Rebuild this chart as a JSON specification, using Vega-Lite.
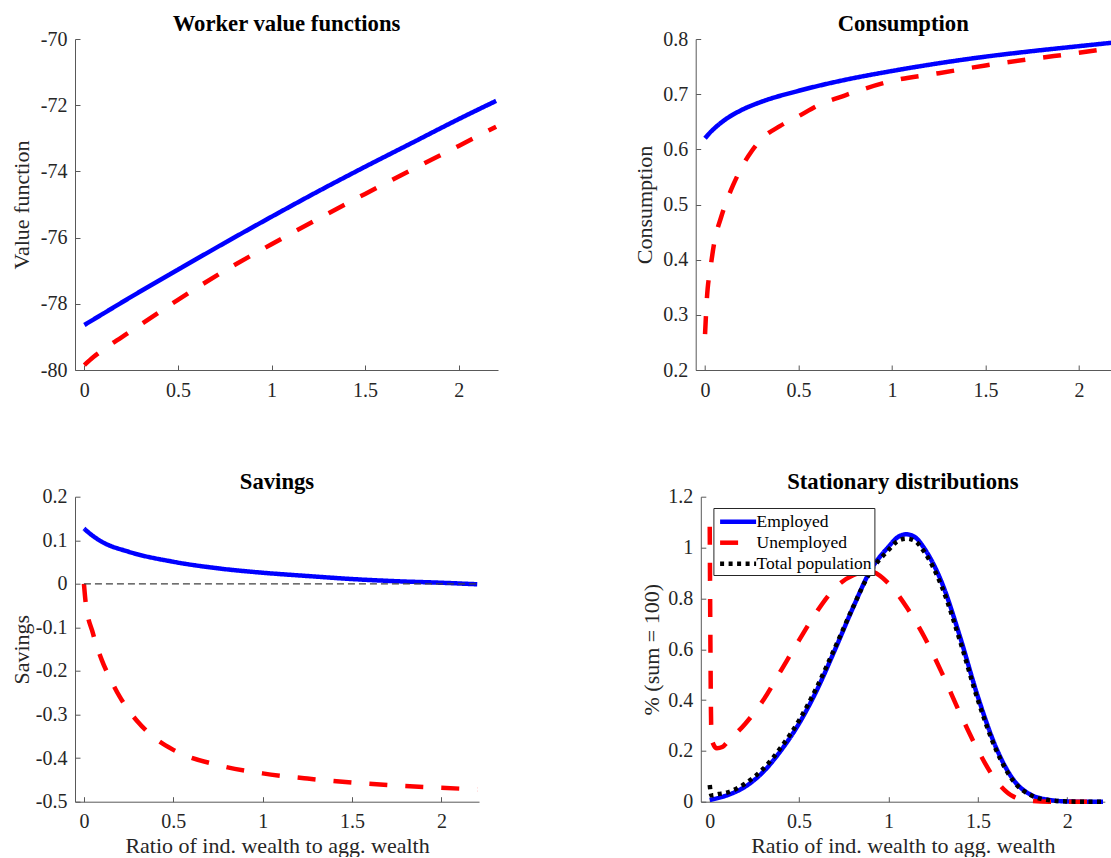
{
  "$schema": "https://vega.github.io/schema/vega-lite/v6.json",
  "padding": {"left": 10, "top": 13, "right": 0, "bottom": 0},
  "background": "white",
  "config": {
    "font": "Liberation Serif",
    "view": {"stroke": null},
    "axis": {
      "grid": false,
      "labelFont": "Liberation Serif",
      "labelFontSize": 20,
      "labelColor": "#262626",
      "titleFont": "Liberation Serif",
      "titleFontSize": 22,
      "titleFontWeight": "normal",
      "titleColor": "#262626",
      "domainColor": "#595959",
      "tickColor": "#595959",
      "tickSize": -5,
      "domainWidth": 1,
      "tickWidth": 1
    },
    "title": {"font": "Liberation Serif", "fontSize": 22.7, "fontWeight": "bold", "color": "#000000", "offset": -7, "frame": "group", "baseline": "alphabetic"},
    "line": {"strokeWidth": 4.5, "strokeCap": "butt", "clip": true, "interpolate": "monotone"}
  },
  "datasets": {
    "vf": [
      {"x": 0, "y": -78.64, "s": "Employed"},
      {"x": 0.1, "y": -78.3, "s": "Employed"},
      {"x": 0.25, "y": -77.79, "s": "Employed"},
      {"x": 0.5, "y": -76.97, "s": "Employed"},
      {"x": 0.75, "y": -76.16, "s": "Employed"},
      {"x": 1, "y": -75.37, "s": "Employed"},
      {"x": 1.25, "y": -74.6, "s": "Employed"},
      {"x": 1.5, "y": -73.86, "s": "Employed"},
      {"x": 1.75, "y": -73.14, "s": "Employed"},
      {"x": 2, "y": -72.42, "s": "Employed"},
      {"x": 2.2, "y": -71.87, "s": "Employed"},
      {"x": 0, "y": -79.85, "s": "Unemployed"},
      {"x": 0.05, "y": -79.6, "s": "Unemployed"},
      {"x": 0.1, "y": -79.39, "s": "Unemployed"},
      {"x": 0.25, "y": -78.82, "s": "Unemployed"},
      {"x": 0.5, "y": -77.88, "s": "Unemployed"},
      {"x": 0.75, "y": -77.0, "s": "Unemployed"},
      {"x": 1, "y": -76.2, "s": "Unemployed"},
      {"x": 1.25, "y": -75.43, "s": "Unemployed"},
      {"x": 1.5, "y": -74.68, "s": "Unemployed"},
      {"x": 1.75, "y": -73.95, "s": "Unemployed"},
      {"x": 2, "y": -73.23, "s": "Unemployed"},
      {"x": 2.2, "y": -72.65, "s": "Unemployed"}
    ],
    "cons": [
      {"x": 0, "y": 0.62, "s": "Employed"},
      {"x": 0.02, "y": 0.628, "s": "Employed"},
      {"x": 0.05, "y": 0.638, "s": "Employed"},
      {"x": 0.1, "y": 0.652, "s": "Employed"},
      {"x": 0.2, "y": 0.672, "s": "Employed"},
      {"x": 0.3, "y": 0.686, "s": "Employed"},
      {"x": 0.5, "y": 0.706, "s": "Employed"},
      {"x": 0.75, "y": 0.726, "s": "Employed"},
      {"x": 1, "y": 0.742, "s": "Employed"},
      {"x": 1.25, "y": 0.756, "s": "Employed"},
      {"x": 1.5, "y": 0.768, "s": "Employed"},
      {"x": 1.75, "y": 0.778, "s": "Employed"},
      {"x": 2, "y": 0.787, "s": "Employed"},
      {"x": 2.2, "y": 0.794, "s": "Employed"},
      {"x": 0, "y": 0.265, "s": "Unemployed"},
      {"x": 0.01, "y": 0.33, "s": "Unemployed"},
      {"x": 0.03, "y": 0.387, "s": "Unemployed"},
      {"x": 0.05, "y": 0.432, "s": "Unemployed"},
      {"x": 0.085, "y": 0.476, "s": "Unemployed"},
      {"x": 0.1, "y": 0.492, "s": "Unemployed"},
      {"x": 0.15, "y": 0.535, "s": "Unemployed"},
      {"x": 0.2, "y": 0.57, "s": "Unemployed"},
      {"x": 0.25, "y": 0.597, "s": "Unemployed"},
      {"x": 0.3, "y": 0.618, "s": "Unemployed"},
      {"x": 0.4, "y": 0.642, "s": "Unemployed"},
      {"x": 0.5, "y": 0.66, "s": "Unemployed"},
      {"x": 0.6, "y": 0.679, "s": "Unemployed"},
      {"x": 0.75, "y": 0.698, "s": "Unemployed"},
      {"x": 1, "y": 0.724, "s": "Unemployed"},
      {"x": 1.25, "y": 0.738, "s": "Unemployed"},
      {"x": 1.5, "y": 0.752, "s": "Unemployed"},
      {"x": 1.75, "y": 0.764, "s": "Unemployed"},
      {"x": 2, "y": 0.775, "s": "Unemployed"},
      {"x": 2.2, "y": 0.785, "s": "Unemployed"}
    ],
    "sav": [
      {"x": 0, "y": 0.127, "s": "Employed"},
      {"x": 0.05, "y": 0.11, "s": "Employed"},
      {"x": 0.1, "y": 0.0966, "s": "Employed"},
      {"x": 0.25, "y": 0.0737, "s": "Employed"},
      {"x": 0.5, "y": 0.0507, "s": "Employed"},
      {"x": 0.75, "y": 0.0356, "s": "Employed"},
      {"x": 1, "y": 0.0255, "s": "Employed"},
      {"x": 1.25, "y": 0.018, "s": "Employed"},
      {"x": 1.5, "y": 0.011, "s": "Employed"},
      {"x": 1.75, "y": 0.006, "s": "Employed"},
      {"x": 2, "y": 0.0025, "s": "Employed"},
      {"x": 2.2, "y": -0.001, "s": "Employed"},
      {"x": 0, "y": 0, "s": "Unemployed"},
      {"x": 0.01, "y": -0.044, "s": "Unemployed"},
      {"x": 0.05, "y": -0.113, "s": "Unemployed"},
      {"x": 0.1, "y": -0.175, "s": "Unemployed"},
      {"x": 0.15, "y": -0.22, "s": "Unemployed"},
      {"x": 0.2, "y": -0.259, "s": "Unemployed"},
      {"x": 0.3, "y": -0.316, "s": "Unemployed"},
      {"x": 0.4, "y": -0.355, "s": "Unemployed"},
      {"x": 0.5, "y": -0.381, "s": "Unemployed"},
      {"x": 0.75, "y": -0.416, "s": "Unemployed"},
      {"x": 1, "y": -0.435, "s": "Unemployed"},
      {"x": 1.25, "y": -0.447, "s": "Unemployed"},
      {"x": 1.5, "y": -0.456, "s": "Unemployed"},
      {"x": 1.75, "y": -0.463, "s": "Unemployed"},
      {"x": 2, "y": -0.468, "s": "Unemployed"},
      {"x": 2.2, "y": -0.472, "s": "Unemployed"}
    ],
    "zero": [
      {"x0": 0, "x1": 2.2, "y": 0}
    ],
    "dist": [
      {"x": 0, "y": 0.007, "s": "Employed"},
      {"x": 0.1, "y": 0.026, "s": "Employed"},
      {"x": 0.2, "y": 0.06, "s": "Employed"},
      {"x": 0.3, "y": 0.118, "s": "Employed"},
      {"x": 0.4, "y": 0.203, "s": "Employed"},
      {"x": 0.5, "y": 0.308, "s": "Employed"},
      {"x": 0.6, "y": 0.44, "s": "Employed"},
      {"x": 0.7, "y": 0.597, "s": "Employed"},
      {"x": 0.8, "y": 0.761, "s": "Employed"},
      {"x": 0.9, "y": 0.911, "s": "Employed"},
      {"x": 1, "y": 1.003, "s": "Employed"},
      {"x": 1.05, "y": 1.04, "s": "Employed"},
      {"x": 1.1, "y": 1.052, "s": "Employed"},
      {"x": 1.15, "y": 1.04, "s": "Employed"},
      {"x": 1.2, "y": 0.997, "s": "Employed"},
      {"x": 1.3, "y": 0.859, "s": "Employed"},
      {"x": 1.4, "y": 0.649, "s": "Employed"},
      {"x": 1.5, "y": 0.413, "s": "Employed"},
      {"x": 1.6, "y": 0.216, "s": "Employed"},
      {"x": 1.7, "y": 0.085, "s": "Employed"},
      {"x": 1.8, "y": 0.026, "s": "Employed"},
      {"x": 1.9, "y": 0.007, "s": "Employed"},
      {"x": 2, "y": 0.001, "s": "Employed"},
      {"x": 2.1, "y": 0, "s": "Employed"},
      {"x": 2.2, "y": 0, "s": "Employed"},
      {"x": 0, "y": 1.082, "s": "Unemployed"},
      {"x": 0.004, "y": 0.6, "s": "Unemployed"},
      {"x": 0.008, "y": 0.3, "s": "Unemployed"},
      {"x": 0.015, "y": 0.235, "s": "Unemployed"},
      {"x": 0.04, "y": 0.21, "s": "Unemployed"},
      {"x": 0.07, "y": 0.215, "s": "Unemployed"},
      {"x": 0.1, "y": 0.236, "s": "Unemployed"},
      {"x": 0.2, "y": 0.308, "s": "Unemployed"},
      {"x": 0.3, "y": 0.4, "s": "Unemployed"},
      {"x": 0.4, "y": 0.518, "s": "Unemployed"},
      {"x": 0.5, "y": 0.636, "s": "Unemployed"},
      {"x": 0.6, "y": 0.749, "s": "Unemployed"},
      {"x": 0.7, "y": 0.84, "s": "Unemployed"},
      {"x": 0.8, "y": 0.89, "s": "Unemployed"},
      {"x": 0.9, "y": 0.905, "s": "Unemployed"},
      {"x": 1, "y": 0.859, "s": "Unemployed"},
      {"x": 1.1, "y": 0.767, "s": "Unemployed"},
      {"x": 1.2, "y": 0.649, "s": "Unemployed"},
      {"x": 1.3, "y": 0.505, "s": "Unemployed"},
      {"x": 1.4, "y": 0.348, "s": "Unemployed"},
      {"x": 1.5, "y": 0.203, "s": "Unemployed"},
      {"x": 1.6, "y": 0.085, "s": "Unemployed"},
      {"x": 1.7, "y": 0.02, "s": "Unemployed"},
      {"x": 1.8, "y": 0.003, "s": "Unemployed"},
      {"x": 1.9, "y": 0, "s": "Unemployed"},
      {"x": 2, "y": 0, "s": "Unemployed"},
      {"x": 2.2, "y": 0, "s": "Unemployed"},
      {"x": 0, "y": 0.066, "s": "Total population"},
      {"x": 0.01, "y": 0.025, "s": "Total population"},
      {"x": 0.05, "y": 0.03, "s": "Total population"},
      {"x": 0.1, "y": 0.037, "s": "Total population"},
      {"x": 0.2, "y": 0.072, "s": "Total population"},
      {"x": 0.3, "y": 0.13, "s": "Total population"},
      {"x": 0.4, "y": 0.215, "s": "Total population"},
      {"x": 0.5, "y": 0.32, "s": "Total population"},
      {"x": 0.6, "y": 0.452, "s": "Total population"},
      {"x": 0.7, "y": 0.605, "s": "Total population"},
      {"x": 0.8, "y": 0.763, "s": "Total population"},
      {"x": 0.9, "y": 0.906, "s": "Total population"},
      {"x": 1, "y": 0.99, "s": "Total population"},
      {"x": 1.05, "y": 1.025, "s": "Total population"},
      {"x": 1.1, "y": 1.035, "s": "Total population"},
      {"x": 1.15, "y": 1.025, "s": "Total population"},
      {"x": 1.2, "y": 0.983, "s": "Total population"},
      {"x": 1.3, "y": 0.843, "s": "Total population"},
      {"x": 1.4, "y": 0.633, "s": "Total population"},
      {"x": 1.5, "y": 0.4, "s": "Total population"},
      {"x": 1.6, "y": 0.207, "s": "Total population"},
      {"x": 1.7, "y": 0.08, "s": "Total population"},
      {"x": 1.8, "y": 0.024, "s": "Total population"},
      {"x": 1.9, "y": 0.006, "s": "Total population"},
      {"x": 2, "y": 0.001, "s": "Total population"},
      {"x": 2.1, "y": 0, "s": "Total population"},
      {"x": 2.2, "y": 0, "s": "Total population"}
    ]
  },
  "resolve": {"scale": {"color": "independent", "strokeDash": "independent"}, "legend": {"color": "independent", "strokeDash": "independent"}},
  "columns": 1,
  "align": "none",
  "spacing": 70.7,
  "concat": [
    {
      "spacing": 127.7,
      "resolve": {"scale": {"color": "independent", "strokeDash": "independent"}, "legend": {"color": "independent", "strokeDash": "independent"}},
      "hconcat": [
        {
          "width": 423, "height": 331,
          "title": "Worker value functions",
          "data": {"name": "vf"},
          "mark": {"type": "line"},
          "encoding": {
            "x": {"field": "x", "type": "quantitative", "scale": {"domain": [-0.05, 2.21], "nice": false, "zero": false}, "axis": {"values": [0, 0.5, 1, 1.5, 2], "title": null, "labelExpr": "'' + datum.value", "labelPadding": 15, "labelFont": "Liberation Serif"}},
            "y": {"field": "y", "type": "quantitative", "scale": {"domain": [-80, -70], "nice": false, "zero": false}, "axis": {"values": [-80, -78, -76, -74, -72, -70], "title": "Value function", "labelExpr": "'' + datum.value", "labelPadding": 13, "titlePadding": 7.3, "labelFont": "Liberation Serif", "titleFont": "Liberation Serif"}},
            "color": {"field": "s", "type": "nominal", "scale": {"domain": ["Employed", "Unemployed", "Total population"], "range": ["#0000ff", "#ff0000", "#000000"]}, "legend": null},
            "strokeDash": {"field": "s", "type": "nominal", "scale": {"domain": ["Employed", "Unemployed", "Total population"], "range": [[1, 0], [18, 18], [4, 4.5]]}, "legend": null}
          }
        },
        {
          "width": 415, "height": 331,
          "title": "Consumption",
          "data": {"name": "cons"},
          "mark": {"type": "line"},
          "encoding": {
            "x": {"field": "x", "type": "quantitative", "scale": {"domain": [-0.05, 2.17], "nice": false, "zero": false}, "axis": {"values": [0, 0.5, 1, 1.5, 2], "title": null, "labelExpr": "'' + datum.value", "labelPadding": 15, "labelFont": "Liberation Serif"}},
            "y": {"field": "y", "type": "quantitative", "scale": {"domain": [0.2, 0.8], "nice": false, "zero": false}, "axis": {"values": [0.2, 0.3, 0.4, 0.5, 0.6, 0.7, 0.8], "title": "Consumption", "labelExpr": "'' + datum.value", "labelPadding": 13, "titlePadding": 6, "labelFont": "Liberation Serif", "titleFont": "Liberation Serif"}},
            "color": {"field": "s", "type": "nominal", "scale": {"domain": ["Employed", "Unemployed", "Total population"], "range": ["#0000ff", "#ff0000", "#000000"]}, "legend": null},
            "strokeDash": {"field": "s", "type": "nominal", "scale": {"domain": ["Employed", "Unemployed", "Total population"], "range": [[1, 0], [18, 18], [4, 4.5]]}, "legend": null}
          }
        }
      ]
    },
    {
      "spacing": 153.8,
      "resolve": {"scale": {"color": "independent", "strokeDash": "independent"}, "legend": {"color": "independent", "strokeDash": "independent"}},
      "hconcat": [
        {
          "width": 404, "height": 305,
          "title": "Savings",
          "layer": [
            {
              "data": {"name": "sav"},
              "mark": {"type": "line"},
              "encoding": {
                "x": {"field": "x", "type": "quantitative", "scale": {"domain": [-0.05, 2.21], "nice": false, "zero": false}, "axis": {"values": [0, 0.5, 1, 1.5, 2], "title": "Ratio of ind. wealth to agg. wealth", "labelExpr": "'' + datum.value", "labelPadding": 15, "titlePadding": 4, "labelFont": "Liberation Serif", "titleFont": "Liberation Serif"}},
                "y": {"field": "y", "type": "quantitative", "scale": {"domain": [-0.5, 0.2], "nice": false, "zero": false}, "axis": {"values": [-0.5, -0.4, -0.3, -0.2, -0.1, 0, 0.1, 0.2], "title": "Savings", "labelExpr": "'' + datum.value", "labelPadding": 13, "titlePadding": 1.8, "labelFont": "Liberation Serif", "titleFont": "Liberation Serif"}},
                "color": {"field": "s", "type": "nominal", "scale": {"domain": ["Employed", "Unemployed", "Total population"], "range": ["#0000ff", "#ff0000", "#000000"]}, "legend": null},
                "strokeDash": {"field": "s", "type": "nominal", "scale": {"domain": ["Employed", "Unemployed", "Total population"], "range": [[1, 0], [18, 18], [4, 4.5]]}, "legend": null}
              }
            },
            {
              "data": {"name": "zero"},
              "mark": {"type": "rule", "color": "#404040", "strokeWidth": 1.2, "strokeDash": [7, 4]},
              "encoding": {
                "x": {"field": "x0", "type": "quantitative"},
                "x2": {"field": "x1"},
                "y": {"field": "y", "type": "quantitative"}
              }
            }
          ]
        },
        {
          "width": 404, "height": 305,
          "title": "Stationary distributions",
          "data": {"name": "dist"},
          "mark": {"type": "line"},
          "encoding": {
            "x": {"field": "x", "type": "quantitative", "scale": {"domain": [-0.05, 2.21], "nice": false, "zero": false}, "axis": {"values": [0, 0.5, 1, 1.5, 2], "title": "Ratio of ind. wealth to agg. wealth", "labelExpr": "'' + datum.value", "labelPadding": 15, "titlePadding": 4, "labelFont": "Liberation Serif", "titleFont": "Liberation Serif"}},
            "y": {"field": "y", "type": "quantitative", "scale": {"domain": [0, 1.2], "nice": false, "zero": false}, "axis": {"values": [0, 0.2, 0.4, 0.6, 0.8, 1, 1.2], "title": "% (sum = 100)", "labelExpr": "'' + datum.value", "labelPadding": 13, "titlePadding": 4, "labelFont": "Liberation Serif", "titleFont": "Liberation Serif"}},
            "color": {"field": "s", "type": "nominal", "scale": {"domain": ["Employed", "Unemployed", "Total population"], "range": ["#0000ff", "#ff0000", "#000000"]},
              "legend": {"orient": "none", "legendX": 12.6, "legendY": 11.3, "title": null, "symbolType": "M-2,0H2", "symbolSize": 324, "symbolStrokeWidth": 4.5, "symbolOffset": 11, "labelFont": "Liberation Serif", "labelFontSize": 17.5, "labelColor": "#000000", "strokeColor": "#262626", "fillColor": "#ffffff", "padding": 2.2, "rowPadding": -1, "labelOffset": 7}},
            "strokeDash": {"field": "s", "type": "nominal", "scale": {"domain": ["Employed", "Unemployed", "Total population"], "range": [[1, 0], [18, 18], [4, 4.5]]},
              "legend": {"orient": "none", "legendX": 12.6, "legendY": 11.3, "title": null, "symbolType": "M-2,0H2", "symbolSize": 324, "symbolStrokeWidth": 4.5, "symbolOffset": 11, "labelFont": "Liberation Serif", "labelFontSize": 17.5, "labelColor": "#000000", "strokeColor": "#262626", "fillColor": "#ffffff", "padding": 2.2, "rowPadding": -1, "labelOffset": 7}}
          }
        }
      ]
    }
  ]
}
